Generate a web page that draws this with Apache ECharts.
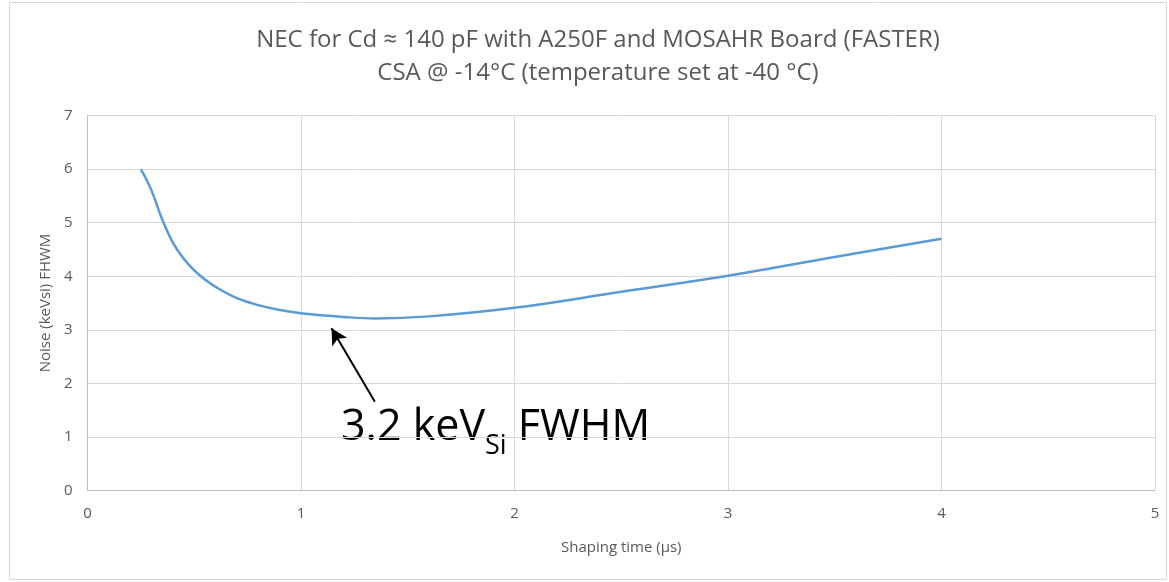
<!DOCTYPE html>
<html>
<head>
<meta charset="utf-8">
<script src="https://cdn.jsdelivr.net/npm/echarts@6/dist/echarts.min.js"></script>
<style>
  html, body { margin: 0; padding: 0; background: #fff; }
  #main { width: 1169px; height: 582px; }
</style>
</head>
<body>
<div id="main"></div>
<script>
// shaping time (µs) and noise FWHM (keV Si)
const shapingTime = [0.25, 0.3, 0.35, 0.4, 0.45, 0.5, 0.55, 0.6, 0.7, 0.8, 0.9, 1.0, 1.2, 1.35, 1.6, 2.0, 2.5, 3.0, 3.5, 4.0]
const noiseFwhm   = [6.0, 5.60, 5.06, 4.63, 4.33, 4.11, 3.94, 3.80, 3.59, 3.46, 3.37, 3.31, 3.24, 3.21, 3.25, 3.41, 3.71, 4.01, 4.36, 4.70]

const titleLines = ['NEC for Cd \u2248 140 pF with A250F and MOSAHR Board (FASTER)', 'CSA @ -14\u00b0C (temperature set at -40 \u00b0C)']
const xName = 'Shaping time (\u00b5s)'
const yName = 'Noise (keVsi) FHWM'

// arrow of the annotation, from the text up to the minimum
const arrowFrom = [1.346, 1.654]
const arrowTo = [1.143, 3.026]

const font = '"Open Sans", "Noto Sans", sans-serif'
const grey = '#595959'

const myChart = echarts.init(document.getElementById('main'))

const points = shapingTime.map((t, i) => [t, noiseFwhm[i]])

const option = {
  backgroundColor: '#fff',
  animation: false,
  grid: {
    left: 87.5,
    right: 14,
    top: 115.7,
    bottom: 91.7
  },
  xAxis: {
    type: 'value',
    min: 0,
    max: 5,
    interval: 1,
    name: xName,
    nameLocation: 'middle',
    nameGap: 50,
    nameTextStyle: { fontFamily: font, fontSize: 15, color: grey },
    axisLine: { lineStyle: { color: '#bfbfbf', width: 1 } },
    axisTick: { show: false },
    axisLabel: { fontFamily: font, fontSize: 15, color: grey, margin: 16 },
    splitLine: { lineStyle: { color: '#d9d9d9', width: 1 } }
  },
  yAxis: {
    type: 'value',
    min: 0,
    max: 7,
    interval: 1,
    name: yName,
    nameLocation: 'middle',
    nameGap: 33,
    nameTextStyle: { fontFamily: font, fontSize: 15, color: grey },
    axisLine: { show: true, lineStyle: { color: '#bfbfbf', width: 1 } },
    axisTick: { show: false },
    axisLabel: { fontFamily: font, fontSize: 15, color: grey, margin: 15 },
    splitLine: { lineStyle: { color: '#d9d9d9', width: 1 } }
  },
  series: [
    {
      type: 'line',
      data: points,
      smooth: 0.4,
      showSymbol: false,
      lineStyle: { color: '#5b9bd5', width: 2.5 },
      markLine: {
        silent: true,
        symbol: ['none', 'arrow'],
        symbolSize: [13, 16],
        lineStyle: { color: '#000', width: 2, type: 'solid' },
        label: { show: false },
        data: [[{ coord: arrowFrom }, { coord: arrowTo }]]
      }
    }
  ],
  graphic: [
    {
      type: 'rect',
      shape: { x: 9.5, y: 2.5, width: 1157, height: 577 },
      style: { fill: 'none', stroke: '#d9d9d9', lineWidth: 1 },
      silent: true
    },
    // title, centred a bit right of the page centre as in the original
    {
      type: 'text',
      x: 598,
      y: 24,
      style: {
        text: titleLines.join('\n'),
        fontFamily: font,
        fontSize: 24,
        lineHeight: 33,
        fill: grey,
        align: 'center',
        verticalAlign: 'top'
      },
      silent: true
    },
    {
      type: 'text',
      left: 341,
      top: 406,
      style: {
        text: '{a|3.2 keV}{s|Si}{a| FWHM}',
        rich: {
          a: { fontFamily: '"Open Sans", sans-serif', fontSize: 43, color: '#000', verticalAlign: 'top', lineHeight: 56 },
          s: { fontFamily: '"Open Sans", sans-serif', fontSize: 27, color: '#000', verticalAlign: 'top', padding: [27, 0, 0, 0] }
        }
      },
      silent: true
    }
  ]
}

myChart.setOption(option)
</script>
</body>
</html>
